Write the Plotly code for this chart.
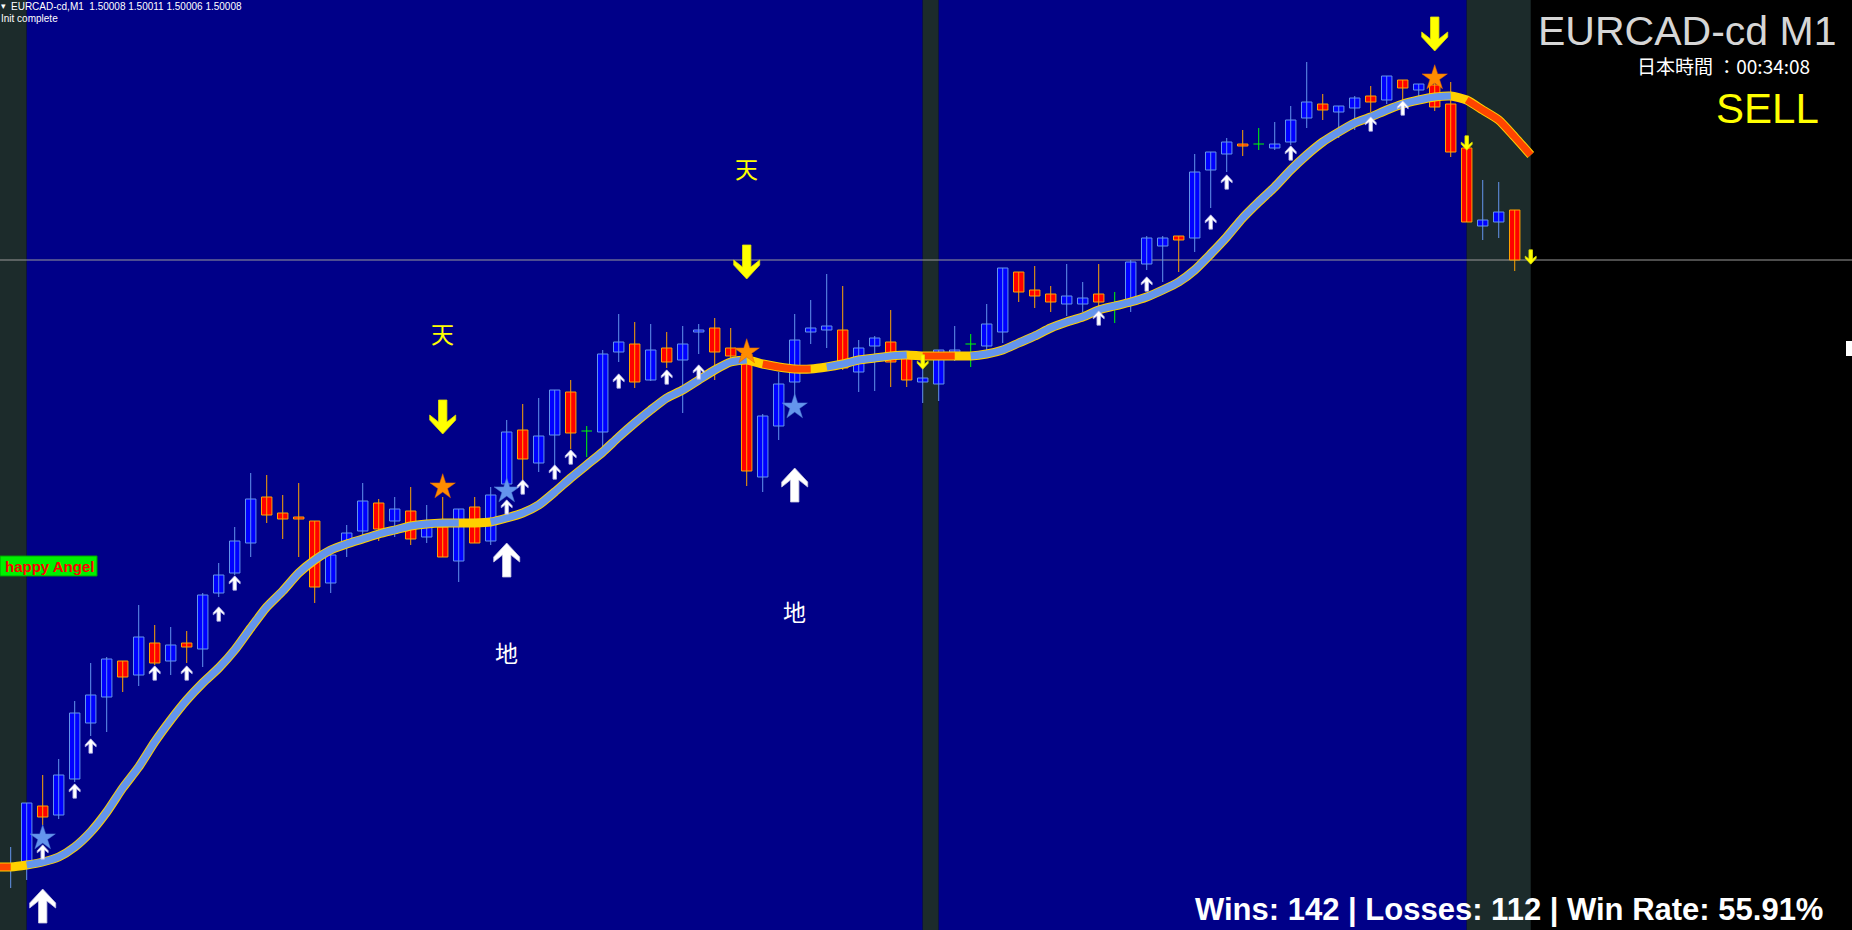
import plotly.graph_objects as go

W, H = 1852, 930

# ---------------- data ----------------
symbol = "EURCAD-cd"
timeframe = "M1"
cur_ohlc = ["1.50008", "1.50011", "1.50006", "1.50008"]
jp_time = "00:34:08"
signal = "SELL"
wins, losses, win_rate = 142, 112, 55.91

opens = [1.49398, 1.49403, 1.49462, 1.49453, 1.49489, 1.49545, 1.49571, 1.49607, 1.49593, 1.49625,
         1.49607, 1.49625, 1.49619, 1.49675, 1.49695, 1.49725, 1.49771, 1.49755, 1.49751, 1.49747,
         1.49685, 1.49723, 1.49737, 1.49765, 1.49747, 1.49757, 1.49731, 1.49741, 1.49707, 1.49761,
         1.49727, 1.49784, 1.49838, 1.49805, 1.49833, 1.49876, 1.49837, 1.49836, 1.49916, 1.49924,
         1.49888, 1.49920, 1.49908, 1.49936, 1.49940, 1.49920, 1.49914, 1.49791, 1.49842, 1.49886,
         1.49936, 1.49938, 1.49938, 1.49896, 1.49922, 1.49926, 1.49910, 1.49886, 1.49884, 1.49916,
         1.49924, 1.49922, 1.49936, 1.49996, 1.49978, 1.49974, 1.49964, 1.49964, 1.49974, 1.49961,
         1.49968, 1.50004, 1.50022, 1.50032, 1.50030, 1.50098, 1.50114, 1.50124, 1.50124, 1.50120,
         1.50126, 1.50150, 1.50164, 1.50156, 1.50160, 1.50172, 1.50168, 1.50188, 1.50178, 1.50183,
         1.50164, 1.50120, 1.50042, 1.50046, 1.50058]
highs = [1.49421, 1.49465, 1.49493, 1.49509, 1.49567, 1.49605, 1.49611, 1.49607, 1.49663, 1.49643,
         1.49641, 1.49637, 1.49675, 1.49705, 1.49741, 1.49795, 1.49793, 1.49773, 1.49785, 1.49747,
         1.49720, 1.49743, 1.49785, 1.49769, 1.49771, 1.49781, 1.49763, 1.49771, 1.49759, 1.49771,
         1.49781, 1.49848, 1.49864, 1.49870, 1.49878, 1.49888, 1.49842, 1.49918, 1.49954, 1.49946,
         1.49944, 1.49936, 1.49942, 1.49944, 1.49950, 1.49940, 1.49920, 1.49854, 1.49896, 1.49954,
         1.49968, 1.49994, 1.49982, 1.49928, 1.49932, 1.49958, 1.49914, 1.49908, 1.49918, 1.49942,
         1.49934, 1.49964, 1.50000, 1.49996, 1.50002, 1.49982, 1.50004, 1.49986, 1.50004, 1.49976,
         1.50008, 1.50032, 1.50032, 1.50032, 1.50114, 1.50116, 1.50130, 1.50138, 1.50140, 1.50146,
         1.50162, 1.50206, 1.50174, 1.50162, 1.50172, 1.50182, 1.50192, 1.50188, 1.50184, 1.50188,
         1.50186, 1.50120, 1.50088, 1.50086, 1.50058]
lows = [1.49380, 1.49388, 1.49443, 1.49449, 1.49486, 1.49532, 1.49536, 1.49576, 1.49582, 1.49603,
        1.49593, 1.49605, 1.49601, 1.49671, 1.49693, 1.49711, 1.49745, 1.49729, 1.49711, 1.49665,
        1.49675, 1.49711, 1.49731, 1.49727, 1.49731, 1.49723, 1.49725, 1.49711, 1.49686, 1.49725,
        1.49723, 1.49778, 1.49788, 1.49796, 1.49801, 1.49819, 1.49811, 1.49816, 1.49906, 1.49880,
        1.49887, 1.49900, 1.49855, 1.49914, 1.49888, 1.49902, 1.49782, 1.49776, 1.49828, 1.49868,
        1.49924, 1.49920, 1.49898, 1.49876, 1.49877, 1.49881, 1.49881, 1.49865, 1.49867, 1.49907,
        1.49901, 1.49918, 1.49925, 1.49966, 1.49960, 1.49956, 1.49952, 1.49956, 1.49958, 1.49945,
        1.49956, 1.49998, 1.49986, 1.49996, 1.50016, 1.50060, 1.50096, 1.50112, 1.50118, 1.50118,
        1.50123, 1.50140, 1.50148, 1.50130, 1.50138, 1.50156, 1.50164, 1.50162, 1.50170, 1.50157,
        1.50111, 1.50046, 1.50028, 1.50030, 1.49997]
closes = [1.49400, 1.49465, 1.49451, 1.49493, 1.49555, 1.49573, 1.49609, 1.49591, 1.49631, 1.49605,
          1.49623, 1.49621, 1.49673, 1.49693, 1.49727, 1.49769, 1.49753, 1.49749, 1.49749, 1.49681,
          1.49713, 1.49735, 1.49767, 1.49739, 1.49759, 1.49729, 1.49745, 1.49711, 1.49759, 1.49725,
          1.49773, 1.49836, 1.49809, 1.49832, 1.49878, 1.49835, 1.49837, 1.49914, 1.49926, 1.49886,
          1.49918, 1.49906, 1.49924, 1.49938, 1.49916, 1.49912, 1.49797, 1.49852, 1.49884, 1.49928,
          1.49940, 1.49942, 1.49900, 1.49920, 1.49930, 1.49906, 1.49888, 1.49890, 1.49918, 1.49918,
          1.49924, 1.49944, 1.50000, 1.49976, 1.49972, 1.49966, 1.49972, 1.49970, 1.49966, 1.49961,
          1.50006, 1.50030, 1.50030, 1.50028, 1.50096, 1.50116, 1.50126, 1.50122, 1.50124, 1.50124,
          1.50148, 1.50166, 1.50158, 1.50162, 1.50170, 1.50166, 1.50192, 1.50180, 1.50184, 1.50161,
          1.50116, 1.50046, 1.50048, 1.50056, 1.50008]

# smoothed trend line, bars -1 .. 95
ma_start = -1
ma = [1.49401, 1.49401, 1.49403, 1.49406, 1.49411, 1.49421, 1.49436, 1.49456, 1.49480, 1.49501, 1.49526,
      1.49548, 1.49568, 1.49585, 1.49600, 1.49618, 1.49640, 1.49661, 1.49677, 1.49695, 1.49708,
      1.49718, 1.49724, 1.49729, 1.49734, 1.49738, 1.49742, 1.49744, 1.49745, 1.49745, 1.49745,
      1.49746, 1.49750, 1.49755, 1.49763, 1.49776, 1.49790, 1.49803, 1.49816, 1.49831, 1.49845,
      1.49858, 1.49870, 1.49878, 1.49888, 1.49898, 1.49906, 1.49908, 1.49904, 1.49901, 1.49899,
      1.49899, 1.49901, 1.49904, 1.49908, 1.49910, 1.49912, 1.49913, 1.49912, 1.49912, 1.49912,
      1.49912, 1.49914, 1.49918, 1.49925, 1.49932, 1.49940, 1.49946, 1.49951, 1.49958, 1.49962,
      1.49966, 1.49971, 1.49978, 1.49986, 1.49998, 1.50014, 1.50031, 1.50050, 1.50066, 1.50081,
      1.50098, 1.50113, 1.50126, 1.50136, 1.50145, 1.50151, 1.50158, 1.50164, 1.50168, 1.50171,
      1.50172, 1.50168, 1.50158, 1.50148, 1.50131, 1.50113]
# trend state of each line segment (u = up, f = flat, d = down), run-length encoded
ma_runs = [("d", 1), ("f", 1), ("u", 27), ("f", 2), ("u", 16), ("f", 1), ("d", 3), ("f", 1),
           ("u", 5), ("f", 1), ("d", 2), ("f", 1), ("u", 30), ("f", 1), ("d", 4)]

# signals (bar index, price)
up_small_idx = [2, 4, 5, 9, 11, 13, 14, 31, 32, 34, 35, 38, 41, 43, 68, 71, 75, 76, 80, 85, 87]
up_small_px = [1.49416, 1.49477, 1.49522, 1.49595, 1.49595, 1.49654, 1.49685, 1.49761, 1.49781,
               1.49796, 1.49811, 1.49887, 1.49891, 1.49896, 1.49950, 1.49984, 1.50046, 1.50086,
               1.50115, 1.50144, 1.50160]
up_big_idx = [2, 31, 49]
up_big_px = [1.49362, 1.49708, 1.49783]
dn_big_idx = [27, 46, 89]
dn_big_px = [1.49851, 1.50006, 1.50234]
dn_small_idx = [57, 91, 95]
dn_small_px = [1.49906, 1.50125, 1.50011]
star_or_idx = [27, 46, 89]
star_or_px = [1.49781, 1.49916, 1.50190]
star_bl_idx = [2, 31, 49]
star_bl_px = [1.49430, 1.49777, 1.49861]
ten_idx = [27, 46]
ten_px = [1.49935, 1.50100]
chi_idx = [31, 49]
chi_px = [1.49616, 1.49657]

# ---------------- style ----------------
NAVY = "#000088"
DARK = "#1C2B2B"
BULL_FILL, BULL_EDGE = "#0000FF", "#6495ED"
BEAR_FILL, BEAR_EDGE = "#FF0000", "#FFA500"
DOJI = "#00FF00"
GOLD = "#FFD000"
CORE = {"u": "#6495ED", "d": "#FF4500", "f": GOLD}

Y0, Y1 = 1.49338, 1.50268
X0, X1 = -0.669, 115.08

def fx(px):
    return px / W

def fy(py):
    return 1 - py / H

fig = go.Figure()

idx = list(range(len(opens)))
bull = [i for i in idx if closes[i] > opens[i]]
bear = [i for i in idx if closes[i] < opens[i]]
doji = [i for i in idx if closes[i] == opens[i]]

def wick_xy(ids):
    xs, ys = [], []
    for i in ids:
        xs += [i, i, None]
        ys += [lows[i], highs[i], None]
    return xs, ys

for ids, col in ((bull, BULL_EDGE), (bear, BEAR_EDGE), (doji, DOJI)):
    xs, ys = wick_xy(ids)
    fig.add_trace(go.Scatter(x=xs, y=ys, mode="lines", line=dict(color=col, width=1),
                             hoverinfo="skip", showlegend=False))

# doji horizontal ticks
dx, dy = [], []
for i in doji:
    dx += [i - 0.33, i + 0.33, None]
    dy += [opens[i], opens[i], None]
fig.add_trace(go.Scatter(x=dx, y=dy, mode="lines", line=dict(color=DOJI, width=1),
                         hoverinfo="skip", showlegend=False))

for ids, fill, edge in ((bull, BULL_FILL, BULL_EDGE), (bear, BEAR_FILL, BEAR_EDGE)):
    fig.add_trace(go.Bar(x=ids,
                         y=[abs(closes[i] - opens[i]) for i in ids],
                         base=[min(opens[i], closes[i]) for i in ids],
                         width=0.65,
                         marker=dict(color=fill, line=dict(color=edge, width=1)),
                         hoverinfo="skip", showlegend=False))

# trend line
ma_x = list(range(ma_start, ma_start + len(ma)))
fig.add_trace(go.Scatter(x=ma_x, y=ma, mode="lines",
                         line=dict(color=GOLD, width=9, shape="spline", smoothing=0.6),
                         hoverinfo="skip", showlegend=False))
k = 0
for state, n in ma_runs:
    if state != "f":
        fig.add_trace(go.Scatter(x=ma_x[k:k + n + 1], y=ma[k:k + n + 1], mode="lines",
                                 line=dict(color=CORE[state], width=7, shape="spline", smoothing=0.6),
                                 hoverinfo="skip", showlegend=False))
    k += n

# stars
fig.add_trace(go.Scatter(x=star_or_idx, y=star_or_px, mode="markers",
                         marker=dict(symbol="star", size=19, color="#FF8C00",
                                     line=dict(color="#E06000", width=0.5)),
                         hoverinfo="skip", showlegend=False))
fig.add_trace(go.Scatter(x=star_bl_idx, y=star_bl_px, mode="markers",
                         marker=dict(symbol="star", size=19, color="#6495ED",
                                     line=dict(color="#4A78D0", width=0.5)),
                         hoverinfo="skip", showlegend=False))

shapes = []
# session backgrounds
for a, b, c in ((X0 - 1, 1, DARK), (1, 57, NAVY), (57, 58, DARK), (58, 91, NAVY), (91, 95, DARK)):
    shapes.append(dict(type="rect", xref="x", yref="paper", x0=a, x1=b, y0=0, y1=1,
                       fillcolor=c, line=dict(width=0), layer="below"))
# bid line
shapes.append(dict(type="line", xref="paper", yref="y", x0=0, x1=1, y0=closes[-1], y1=closes[-1],
                   line=dict(color="#9A9A9A", width=1), layer="below"))
# small marker at right edge
shapes.append(dict(type="rect", xref="paper", yref="paper", x0=fx(1846), x1=fx(1852), y0=fy(356), y1=fy(341),
                   fillcolor="#FFFFFF", line=dict(width=0), layer="above"))

ARROW = [(0, 17), (13, 3), (13, -2), (4.2, 5), (4.2, -17), (-4.2, -17), (-4.2, 5), (-13, -2), (-13, 3)]

def arrow_path(scale, up):
    sg = 1 if up else -1
    return "M" + " L".join(f"{x * scale:.2f},{y * scale * sg:.2f}" for x, y in ARROW) + " Z"

def add_arrows(ids, pxs, scale, up, color, edge):
    for i, p in zip(ids, pxs):
        shapes.append(dict(type="path", xref="x", yref="y", xsizemode="pixel", ysizemode="pixel",
                           xanchor=i, yanchor=p, path=arrow_path(scale, up),
                           fillcolor=color, line=dict(color=edge, width=0.8), layer="above"))

add_arrows(up_small_idx, up_small_px, 0.42, True, "#FFFFFF", "#B8B8E8")
add_arrows(up_big_idx, up_big_px, 1.0, True, "#FFFFFF", "#C8C8E0")
add_arrows(dn_big_idx, dn_big_px, 1.0, False, "#FFFF00", "#E0E000")
add_arrows(dn_small_idx, dn_small_px, 0.42, False, "#FFFF00", "#E0E000")

# happy Angel label box
shapes.append(dict(type="rect", xref="paper", yref="paper", x0=fx(0), x1=fx(97), y0=fy(576), y1=fy(556),
                   fillcolor="#00F000", line=dict(color="#00A000", width=1), layer="above"))

annotations = []
for i, p in zip(ten_idx, ten_px):
    annotations.append(dict(x=i, y=p, xref="x", yref="y", text="天", showarrow=False,
                            font=dict(family="Noto Sans CJK JP", size=23, color="#FFFF00")))
for i, p in zip(chi_idx, chi_px):
    annotations.append(dict(x=i, y=p, xref="x", yref="y", text="地", showarrow=False,
                            font=dict(family="Noto Sans CJK JP", size=23, color="#FFFFFF")))

def ann(px, py, text, size, color, xanchor="left", family="Liberation Sans", weight="normal"):
    annotations.append(dict(x=fx(px), y=fy(py), xref="paper", yref="paper", text=text,
                            showarrow=False, xanchor=xanchor, yanchor="middle",
                            font=dict(family=family, size=size, color=color, weight=weight)))

ann(-1, 6, "▾", 9, "#FFFFFF")
ann(9, 6, f"{symbol},{timeframe}  " + " ".join(cur_ohlc), 10, "#FFFFFF")
ann(-1, 18, "Init complete", 10, "#FFFFFF")
ann(1838, 31, f"{symbol} {timeframe}", 41, "#D6D6D6", xanchor="right")
ann(1812, 66, f"日本時間 ：{jp_time}", 19, "#FFFFFF", xanchor="right", family="Noto Sans CJK JP")
ann(1821, 109, signal, 42, "#FFFF00", xanchor="right")
ann(3, 566, "happy Angel", 15, "#FF0000", weight="bold")
ann(1825, 909, f"Wins: {wins} | Losses: {losses} | Win Rate: {win_rate:.2f}%", 31, "#FFFFFF",
    xanchor="right", weight="bold")

fig.update_layout(
    width=W, height=H, margin=dict(l=0, r=0, t=0, b=0),
    paper_bgcolor="#000000", plot_bgcolor="#000000",
    barmode="overlay", showlegend=False,
    xaxis=dict(range=[X0, X1], visible=False, fixedrange=True),
    yaxis=dict(range=[Y0, Y1], visible=False, fixedrange=True),
    shapes=shapes, annotations=annotations,
)

fig.write_html("out.html", config={"displayModeBar": False, "staticPlot": True},
               post_script="document.body.style.margin='0';document.body.style.background='#000';")
